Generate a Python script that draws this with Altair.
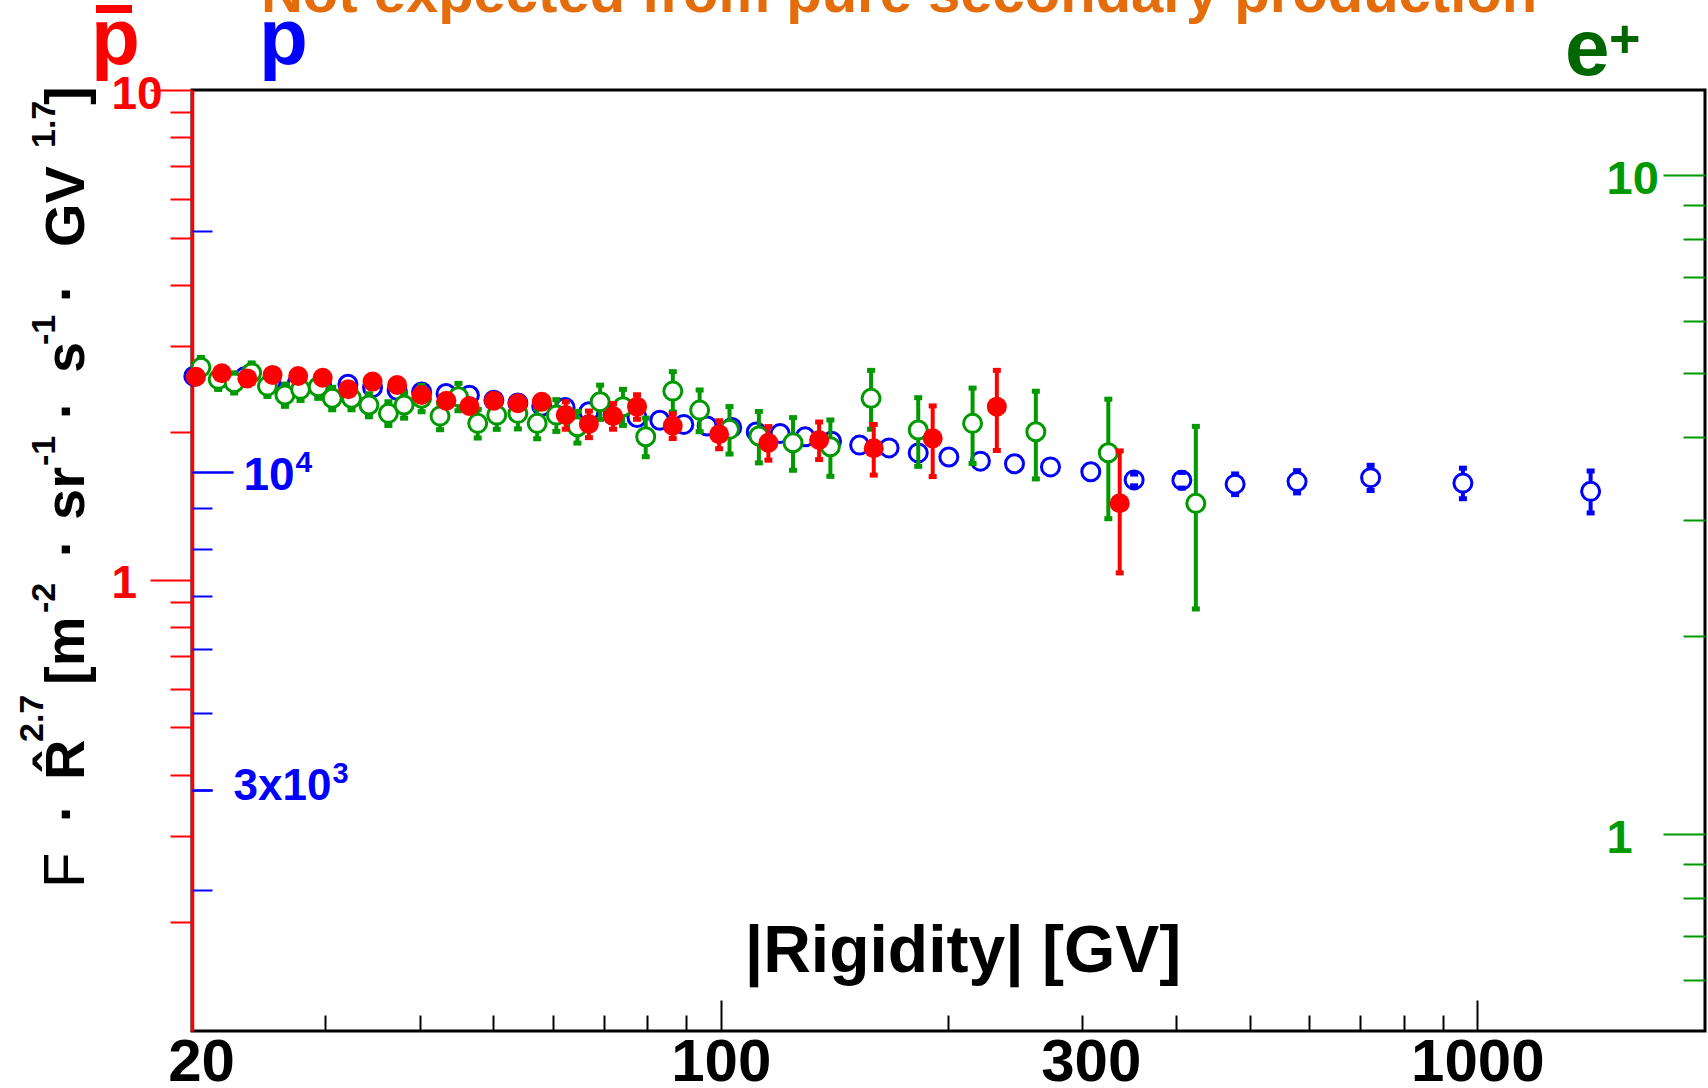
import altair as alt
import pandas as pd

# ---------------- data ----------------
# antiprotons (red, left red axis)
pbar_R = [20.24, 21.9, 23.67, 25.56, 27.63, 29.77, 32.18, 34.65, 37.34, 40.23, 43.38,
          46.53, 50.13, 53.93, 57.99, 62.39, 66.94, 72.05, 77.5, 86.4, 99.5, 115.6,
          134.9, 159.3, 190.6, 231.7, 336.8]
pbar_F = [2.599, 2.642, 2.579, 2.621, 2.608, 2.587, 2.450, 2.540, 2.500, 2.385, 2.322,
          2.265, 2.322, 2.294, 2.311, 2.171, 2.082, 2.161, 2.258, 2.064, 1.983, 1.906,
          1.931, 1.857, 1.946, 2.258, 1.434]
pbar_E = [0.05, 0.05, 0.05, 0.05, 0.05, 0.05, 0.05, 0.07, 0.07, 0.07, 0.07,
          0.07, 0.07, 0.07, 0.07, 0.14, 0.13, 0.13, 0.13, 0.12, 0.13, 0.15,
          0.17, 0.22, 0.32, 0.42, 0.40]

# protons (blue, inner blue axis)
p_R = [20.11, 21.77, 23.47, 25.43, 27.54, 29.68, 32.15, 34.65, 37.34, 40.23, 43.34,
       46.53, 50.13, 53.93, 57.99, 62.26, 66.94, 72.05, 77.5, 83.06, 89.36, 95.94,
       103.4, 111.4, 119.8, 129.3, 140.1, 152.6, 166.9, 182.4, 200.2, 220.4, 244.5,
       272.8, 308.4, 351.9, 406.9, 478.5, 577.8, 722.8, 957.2, 1412]
p_F = [13165, 13080, 13140, 12915, 12895, 12828, 12863, 12740, 12643, 12582, 12526,
       12465, 12286, 12189, 12077, 12031, 11883, 11771, 11689, 11597, 11459, 11408,
       11357, 11214, 11163, 11056, 10919, 10797, 10710, 10557, 10435, 10309, 10233,
       10141, 10000, 9768, 9760, 9650, 9720, 9831, 9678, 9452]
p_E = [40, 40, 40, 40, 40, 40, 40, 40, 40, 40, 45,
       45, 45, 45, 45, 50, 50, 50, 50, 50, 55, 55,
       55, 60, 60, 60, 65, 65, 70, 75, 80, 85, 90,
       100, 110, 165, 220, 287, 311, 356, 425, 570]

# positrons (green, right green axis)
e_R = [20.55, 21.66, 22.74, 23.98, 25.16, 26.54, 27.83, 29.37, 30.65, 32.50, 34.27,
       36.36, 38.14, 40.23, 42.55, 45.00, 47.72, 50.57, 53.93, 57.19, 60.63, 64.64,
       69.27, 74.25, 79.58, 86.42, 93.77, 102.7, 112.3, 124.6, 139.6, 158.0, 182.4,
       215.2, 260.9, 325.3, 424.6]
e_F = [5.108, 4.898, 4.840, 5.012, 4.784, 4.637, 4.730, 4.773, 4.584, 4.584, 4.477,
       4.349, 4.477, 4.584, 4.308, 4.609, 4.200, 4.323, 4.349, 4.200, 4.323, 4.150,
       4.529, 4.450, 4.008, 4.701, 4.399, 4.113, 4.018, 3.925, 3.870, 4.584, 4.104,
       4.200, 4.079, 3.790, 3.176]
e_E = [0.18, 0.17, 0.17, 0.175, 0.17, 0.18, 0.18, 0.19, 0.18, 0.18, 0.18,
       0.18, 0.20, 0.21, 0.20, 0.22, 0.21, 0.21, 0.23, 0.22, 0.24, 0.23,
       0.27, 0.28, 0.27, 0.33, 0.32, 0.34, 0.36, 0.36, 0.38, 0.47, 0.49,
       0.55, 0.62, 0.78, 0.98]

# axes
X_DOM = [20, 2000]
X_LABELS_A = [100, 1000]
X_LABELS_B = [20, 300]
X_MAJOR = [100, 1000]
X_MINOR = [30, 40, 50, 60, 70, 80, 90, 200, 300, 400, 500, 600, 700, 800, 900]

RED_DOM = [0.1201, 10]
RED_MAJOR = [1, 10]
RED_MINOR = [0.2, 0.3, 0.4, 0.5, 0.6, 0.7, 0.8, 0.9, 2, 3, 4, 5, 6, 7, 8, 9]

BLUE_DOM = [2000, 30000]
BLUE_MAJOR = [10000]
BLUE_MINOR = [20000, 9000, 8000, 7000, 6000, 5000, 4000, 3000]
BLUE_LABEL2 = [4000]

GREEN_DOM = [0.5026, 13.46]
GREEN_MAJOR = [1, 10]
GREEN_MINOR = [0.6, 0.7, 0.8, 0.9, 2, 3, 4, 5, 6, 7, 8, 9]

# ---------------- style ----------------
W, H = 1513, 941
FONT = "Liberation Sans"
RED = "#FF0000"
BLUE = "#0000FF"
GREEN = "#009900"
DKGREEN = "#006600"
ORANGE = "#E46C0A"


def xs():
    return alt.Scale(type="log", domain=X_DOM, nice=False)


def ys(dom):
    return alt.Scale(type="log", domain=dom, nice=False)


def make_df(R, F, E):
    df = pd.DataFrame({"R": R, "F": F, "E": E})
    df["lo"] = df["F"] - df["E"]
    df["hi"] = df["F"] + df["E"]
    return df


def series(df, color, dom, filled, size, cap_min):
    base = alt.Chart(df).encode(x=alt.X("R:Q", scale=xs(), axis=None))
    rule = base.mark_rule(color=color, strokeWidth=4).encode(
        y=alt.Y("lo:Q", scale=ys(dom), axis=None), y2="hi:Q")
    caps = (base.transform_filter(f"datum.E / datum.F > {cap_min}")
            .transform_fold(["lo", "hi"], as_=["k", "yy"])
            .mark_tick(orient="horizontal", color=color, size=8, thickness=5, opacity=1)
            .encode(y=alt.Y("yy:Q", scale=ys(dom), axis=None)))
    pts = base.mark_point(shape="circle", size=size, filled=True,
                          fill=color if filled else "white", stroke=color,
                          strokeWidth=0 if filled else 3, opacity=1).encode(
        y=alt.Y("F:Q", scale=ys(dom), axis=None))
    if filled:
        return alt.layer(rule, caps, pts)
    return alt.layer(rule, pts, caps)


def y_axis_layer(values, dom, axis):
    return alt.Chart(pd.DataFrame({"v": values})).mark_point(opacity=0).encode(
        y=alt.Y("v:Q", scale=ys(dom), axis=axis))


def x_axis_layer(values, axis):
    return alt.Chart(pd.DataFrame({"v": values})).mark_point(opacity=0).encode(
        x=alt.X("v:Q", scale=xs(), axis=axis))


def text(t, x, y, size, color="black", weight="bold", angle=0, align="left"):
    return alt.Chart(pd.DataFrame({"t": [t]})).mark_text(
        font=FONT, fontSize=size, fontWeight=weight, color=color, angle=angle,
        align=align, baseline="alphabetic").encode(
        text="t:N", x=alt.value(x), y=alt.value(y))


def xlab_axis(values, offset):
    return alt.Axis(orient="bottom", values=values, ticks=False, domain=False, grid=False,
                    title=None, labelFont=FONT, labelFontWeight="bold", labelFontSize=60,
                    labelColor="black", labelPadding=2, labelFlush=False,
                    labelOverlap=False, labelOffset=offset, format="~g")


def blue_axis(values, tick, lab, pad, size, offset):
    return alt.Axis(orient="right", offset=-W, values=values, tickSize=tick, tickWidth=2,
                    tickColor=BLUE, domain=False, grid=False, title=None, labelFont=FONT,
                    labelFontWeight="bold", labelFontSize=size, labelColor=BLUE,
                    labelAlign="left", labelPadding=pad, labelOffset=offset,
                    labelOverlap=False, labelExpr=lab)


layers = []

# ---- axes ----
layers.append(x_axis_layer(X_LABELS_A, xlab_axis(X_LABELS_A, 0)))
layers.append(x_axis_layer(X_LABELS_B, xlab_axis(X_LABELS_B, 9)))
layers.append(x_axis_layer(X_MAJOR, alt.Axis(
    orient="top", offset=-H, values=X_MAJOR, tickSize=31, tickWidth=2, tickColor="black",
    labels=False, domain=False, grid=False, title=None)))
layers.append(x_axis_layer(X_MINOR, alt.Axis(
    orient="top", offset=-H, values=X_MINOR, tickSize=16, tickWidth=2, tickColor="black",
    labels=False, domain=False, grid=False, title=None)))

layers.append(y_axis_layer(RED_MAJOR, RED_DOM, alt.Axis(
    orient="left", values=RED_MAJOR, tickSize=42, tickWidth=2, tickColor=RED,
    domain=True, domainColor=RED, domainWidth=3.5, grid=False, title=None,
    labelFont=FONT, labelFontWeight="bold", labelFontSize=46, labelColor=RED,
    labelAlign="left", labelPadding=39, labelOffset=4, labelOverlap=False, format="~g")))
layers.append(y_axis_layer(RED_MINOR, RED_DOM, alt.Axis(
    orient="left", values=RED_MINOR, tickSize=22, tickWidth=2, tickColor=RED,
    labels=False, domain=False, grid=False, title=None)))

layers.append(y_axis_layer(BLUE_MAJOR, BLUE_DOM, blue_axis(BLUE_MAJOR, 41, "'10'", 10, 46, 4)))
layers.append(y_axis_layer(BLUE_MAJOR, BLUE_DOM, blue_axis(BLUE_MAJOR, 41, "'4'", 62, 30, -9)))
layers.append(y_axis_layer(BLUE_MINOR, BLUE_DOM, blue_axis(BLUE_MINOR, 20, "''", 21, 44, 0)))
layers.append(y_axis_layer(BLUE_LABEL2, BLUE_DOM, blue_axis(BLUE_LABEL2, 20, "'3x10'", 21, 44, -4)))
layers.append(y_axis_layer(BLUE_LABEL2, BLUE_DOM, blue_axis(BLUE_LABEL2, 20, "'3'", 120, 29, -17)))

layers.append(y_axis_layer(GREEN_MAJOR, GREEN_DOM, alt.Axis(
    orient="left", offset=-W, values=GREEN_MAJOR, tickSize=42, tickWidth=2, tickColor=GREEN,
    domain=False, grid=False, title=None, labelFont=FONT, labelFontWeight="bold",
    labelFontSize=47, labelColor=GREEN, labelAlign="left", labelPadding=57, labelOffset=4,
    labelOverlap=False, format="~g")))
layers.append(y_axis_layer(GREEN_MINOR, GREEN_DOM, alt.Axis(
    orient="left", offset=-W, values=GREEN_MINOR, tickSize=22, tickWidth=2, tickColor=GREEN,
    labels=False, domain=False, grid=False, title=None)))

# ---- data series ----
layers.append(series(make_df(p_R, p_F, p_E), BLUE, BLUE_DOM, False, 324, 0.015))
layers.append(series(make_df(e_R, e_F, e_E), GREEN, GREEN_DOM, False, 324, 0.0))
layers.append(series(make_df(pbar_R, pbar_F, pbar_E), RED, RED_DOM, True, 400, 0.0))

# ---- texts ----
layers.append(text("Not expected from pure secondary production", 707, -78, 58, ORANGE,
                   align="center"))
layers.append(text("p", -101, -26, 80, RED))
layers.append(alt.Chart(pd.DataFrame({"t": ["bar"]})).mark_rule(color=RED, strokeWidth=8)
              .encode(x=alt.value(-96), x2=alt.value(-60), y=alt.value(-81)))
layers.append(text("p", 67, -26, 80, BLUE))
layers.append(text("e", 1373, -15, 80, DKGREEN))
layers.append(text("+", 1417, -33, 54, DKGREEN))
layers.append(text("|Rigidity| [GV]", 771, 882, 66, "black", align="center"))

# rotated y-axis title, piece by piece
MAIN_X, SUP_X, SUP2_X = -108, -137, -149
ytitle = [
    ("F", MAIN_X, 798, 58, "normal", "left"),
    ("·", MAIN_X, 723, 56, "bold", "center"),
    ("R\u0302", MAIN_X, 690, 56, "bold", "left"),
    ("2.7", SUP2_X, 652, 34, "bold", "left"),
    ("[m", MAIN_X, 595, 56, "bold", "left"),
    ("-2", SUP_X, 523, 34, "bold", "left"),
    ("·", MAIN_X, 458, 56, "bold", "center"),
    ("sr", MAIN_X, 430, 56, "bold", "left"),
    ("-1", SUP_X, 376, 34, "bold", "left"),
    ("·", MAIN_X, 320, 56, "bold", "center"),
    ("s", MAIN_X, 283, 56, "bold", "left"),
    ("-1", SUP_X, 255, 34, "bold", "left"),
    ("·", MAIN_X, 203, 56, "bold", "center"),
    ("GV", MAIN_X, 157, 56, "bold", "left"),
    ("1.7", SUP_X, 58, 34, "bold", "left"),
    ("]", MAIN_X, 15, 56, "bold", "left"),
]
for t, x, y, s, w, a in ytitle:
    layers.append(text(t, x, y, s, "black", weight=w, angle=270, align=a))

chart = (alt.layer(*layers)
         .resolve_scale(x="independent", y="independent")
         .resolve_axis(x="independent", y="independent")
         .properties(width=W, height=H,
                     autosize=alt.AutoSizeParams(type="none"),
                     padding={"left": 192, "top": 90, "right": 3, "bottom": 57},
                     background="white")
         .configure_view(stroke="black", strokeWidth=3))

chart.save("out.html", embed_options={"renderer": "svg", "actions": False})
